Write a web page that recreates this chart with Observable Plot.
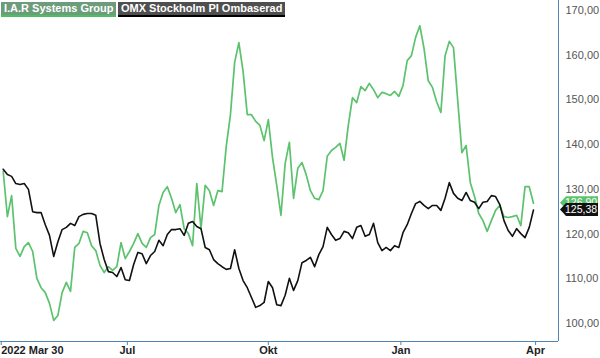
<!DOCTYPE html>
<html><head><meta charset="utf-8">
<script src="https://cdn.jsdelivr.net/npm/d3@7"></script>
<script src="https://cdn.jsdelivr.net/npm/@observablehq/plot@0.6"></script>
<style>
body{margin:0;background:#fff;font-family:"Liberation Sans",Arial,sans-serif;}
#wrap{position:relative;width:600px;height:358px;}
.leg{position:absolute;top:2px;height:13px;line-height:13px;font-size:11px;font-weight:bold;color:#fff;padding:0 3px;white-space:nowrap;}
</style></head><body>
<div id="wrap"></div>
<script>
// Series sampled every 2 trading days starting 2022-03-30
const iarName = "I.A.R Systems Group";
const omxName = "OMX Stockholm PI Ombaserad";
const iarValues = [134.0,123.9,128.6,116.8,115.0,117.2,118.1,116.1,110.1,108.0,
106.9,104.5,100.7,101.8,106.9,109.2,107.2,117.0,117.9,120.6,
120.3,117.4,116.3,113.0,111.4,112.7,111.9,112.7,118.1,114.5,
116.1,117.9,120.1,117.9,117.0,119.2,119.9,126.4,129.3,130.6,
128.0,124.8,126.6,121.2,120.1,117.4,131.3,121.2,130.9,129.7,
126.4,129.7,129.5,139.6,146.7,158.4,162.8,156.4,146.7,146.7,
145.2,144.3,140.9,145.6,137.1,130.9,124.2,135.8,140.5,128.0,
134.7,136.0,133.3,129.7,128.0,127.7,129.7,137.4,138.7,139.4,
140.3,136.5,144.3,150.5,149.4,153.0,152.1,153.7,152.3,150.5,
151.7,151.4,151.0,151.9,150.8,153.2,158.8,159.9,164.0,166.6,
161.5,154.3,152.8,149.6,147.2,159.9,163.1,161.7,149.9,138.2,
139.8,131.5,128.4,124.6,123.0,120.6,123.0,125.3,126.4,123.9,
123.7,123.9,124.2,121.9,130.6,130.6,126.9];
const omxValues = [134.5,133.3,132.9,131.3,131.1,131.3,130.0,125.0,124.8,124.8,
122.1,119.7,115.0,118.3,121.0,121.5,122.4,121.9,123.9,124.4,
124.6,124.6,124.2,117.9,114.3,111.6,111.4,110.5,112.5,109.8,
109.6,113.2,115.9,115.6,113.4,115.2,116.1,118.6,117.4,119.9,
121.0,121.0,121.2,119.7,122.4,122.8,121.7,121.2,117.0,116.5,
114.3,113.4,112.7,112.1,112.3,116.5,112.3,109.6,108.0,105.8,
103.6,104.0,104.7,109.4,108.0,104.2,104.0,106.3,110.1,107.4,
109.6,113.6,114.1,114.8,112.7,115.4,117.2,121.5,119.9,118.6,
119.0,120.6,120.3,119.0,121.5,121.9,119.5,119.9,122.4,118.1,
116.3,117.0,116.3,117.4,117.0,120.3,122.1,124.6,126.8,127.3,
126.4,125.7,126.4,126.4,125.3,128.0,131.5,129.1,128.0,127.5,
129.3,127.5,127.1,125.7,127.1,127.3,128.6,128.4,126.6,123.0,
120.8,119.5,121.2,120.1,119.2,121.5,125.38];
const lastIar = 126.90;
const lastOmx = 125.38;
const tickDays = [0, 59, 126, 189, 253];
const tickLabels = ["2022 Mar 30", "Jul", "Okt", "Jan", "Apr"];
const yTicks = [100, 110, 120, 130, 140, 150, 160, 170];

const iar = iarValues.map((v, i) => ({day: i * 2, value: v}));
const omx = omxValues.map((v, i) => ({day: i * 2, value: v}));

const green = "#5cc26e", dark = "#111", blue = "#4f86b5";
const xDom = [-1.28, 263.9], yDom = [95.97, 172.24];
const fmt = d => d.toFixed(2).replace(".", ",");
const lab = d => tickLabels[tickDays.indexOf(d)];

const plot = Plot.plot({
  width: 600, height: 358,
  marginTop: 0, marginRight: 42, marginBottom: 17, marginLeft: 0,
  style: {fontFamily: '"Liberation Sans", Arial, sans-serif', fontSize: "11px", background: "#fff"},
  x: {domain: xDom},
  y: {domain: yDom},
  marks: [
    Plot.ruleY([yDom[0]], {stroke: blue, strokeWidth: 1}),
    Plot.ruleX([xDom[1]], {stroke: blue, strokeWidth: 1}),
    Plot.axisY(yTicks, {anchor: "right", tickSize: 0, tickPadding: 7, textAnchor: "start", tickFormat: fmt, fill: "#555", label: null}),
    Plot.axisX(tickDays.slice(0, 1), {anchor: "bottom", tickSize: 4, tickPadding: 1, stroke: blue, fill: "#222", fontWeight: "bold", textAnchor: "start", dx: -2, tickFormat: lab, label: null}),
    Plot.axisX(tickDays.slice(1), {anchor: "bottom", tickSize: 4, tickPadding: 1, stroke: blue, fill: "#222", fontWeight: "bold", tickFormat: lab, label: null}),
    Plot.line(iar, {x: "day", y: "value", stroke: green, strokeWidth: 1.7, strokeLinejoin: "round"}),
    Plot.line(omx, {x: "day", y: "value", stroke: dark, strokeWidth: 1.6, strokeLinejoin: "round"})
  ]
});

const wrap = document.getElementById("wrap");
wrap.appendChild(plot);

// last-value labels on the right axis
const svg = d3.select(plot);
const ys = plot.scale("y");
function valueTag(v, fill) {
  const y = ys.apply(v);
  const g = svg.append("g");
  g.append("path")
    .attr("d", `M560,${y} L566,${y - 6.5} L598,${y - 6.5} L598,${y + 6.5} L566,${y + 6.5} Z`)
    .attr("fill", fill);
  g.append("text").attr("x", 565).attr("y", y).attr("dy", "0.35em")
    .attr("text-anchor", "start")
    .attr("fill", "#fff").attr("font-size", 10.5).text(fmt(v));
}
valueTag(lastIar, green);
valueTag(lastOmx, dark);

// legend boxes overlaying the plot
const l1 = document.createElement("div");
l1.className = "leg"; l1.textContent = iarName;
l1.style.left = "1px"; l1.style.background = "#6c9c7b"; l1.style.borderBottom = "2px solid #4cc05e";
wrap.appendChild(l1);
const l2 = document.createElement("div");
l2.className = "leg"; l2.textContent = omxName;
l2.style.left = "118px"; l2.style.background = "#4f4f4f"; l2.style.borderBottom = "2px solid #000";
wrap.appendChild(l2);
</script>
</body></html>
